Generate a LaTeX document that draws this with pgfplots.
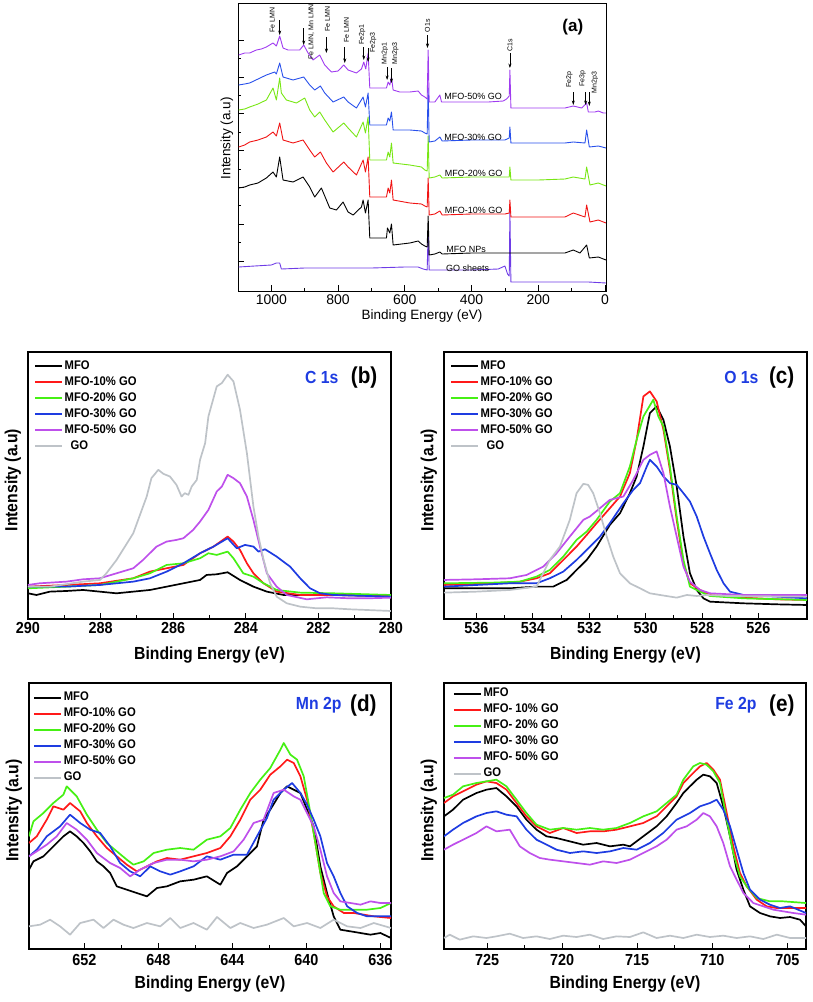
\documentclass[border=0pt]{standalone}
\usepackage{fontspec}
\setmainfont{Liberation Sans}
\newfontfamily\bsans{Liberation Sans}[FakeStretch=0.9]
\usepackage{pgfplots}
\pgfplotsset{compat=1.18}
\usetikzlibrary{arrows.meta}

\definecolor{aPurple}{RGB}{160,60,240}
\definecolor{aGO}{RGB}{110,60,230}
\definecolor{aBlue}{RGB}{40,80,235}
\definecolor{aGreen}{RGB}{120,230,20}
\definecolor{aRed}{RGB}{240,20,20}
\definecolor{cRed}{RGB}{255,25,25}
\definecolor{cGreen}{RGB}{70,240,20}
\definecolor{cBlue}{RGB}{30,60,225}
\definecolor{cPurple}{RGB}{190,80,235}
\definecolor{cGray}{RGB}{190,195,200}
\definecolor{tBlue}{RGB}{30,60,225}

\newcommand{\fs}[1]{\fontsize{#1}{#1}\selectfont}

\tikzset{
  ann/.style={rotate=90, anchor=west, inner sep=0.5pt, font=\fs{7}},
  arr/.style={-{Stealth[length=4.5pt,width=3pt]}, line width=0.6pt},
}

\pgfplotsset{
  panel/.style={
    scale only axis, x dir=reverse,
    axis line style={line width=1.5pt},
    ytick=\empty, xtick pos=lower,
    tick style={line width=1.1pt, black},
    major tick length=6pt, minor tick length=4pt, tick align=inside,
    minor x tick num=1,
    /pgf/number format/assume math mode=true,
    /pgf/number format/1000 sep={},
    every tick label/.append style={font=\bsans\bfseries\fs{16}},
    label style={font=\bsans\bfseries\fs{17.5}},
    xlabel={Binding Energy (eV)}, ylabel={Intensity (a.u)},
    xlabel style={at={(axis description cs:0.5,-0.133)}, anchor=center},
    ylabel style={at={(axis description cs:-0.042,0.52)}, anchor=center},
    legend cell align=left,
    legend image code/.code={\draw[#1, line width=2.2pt] (0pt,0pt) -- (27pt,0pt);},
    legend style={draw=none, fill=none, anchor=north west, inner sep=0pt,
      font=\bsans\bfseries\fs{12.5}, row sep=0.5pt,
      nodes={inner sep=1.5pt, text height=9.5pt, text depth=3pt, anchor=west}},
    every axis plot/.append style={line width=1.7pt, line join=round},
  },
}

\begin{document}
\begin{tikzpicture}
\useasboundingbox (0,0) rectangle (813pt,-1002pt);

%% ---------------- (a) survey ----------------
\begin{axis}[
  at={(238pt,-291pt)}, anchor=south west,
  scale only axis, width=368pt, height=288pt,
  x dir=reverse, xmin=-3, xmax=1100, ymin=0, ymax=288,
  xtick={0,200,...,1000}, minor x tick num=1,
  ytick={30,66.8,103.6,140.4,177.2,214,250.8}, minor y tick num=1,
  yticklabels={}, xtick pos=lower, ytick pos=left,
  tick align=inside, major tick length=6pt, minor tick length=3.5pt,
  axis line style={line width=0.9pt}, tick style={line width=0.7pt, black},
  /pgf/number format/assume math mode=true,
  /pgf/number format/1000 sep={},
  every tick label/.append style={font=\fs{14}},
  label style={font=\fs{13.5}},
  xlabel={Binding Energy (eV)}, ylabel={Intensity (a.u)},
  xlabel style={at={(axis description cs:0.5,-0.087)}, anchor=center},
  ylabel style={at={(axis description cs:-0.030,0.53)}, anchor=center},
  every axis plot/.append style={line width=0.9pt, line join=round},
]
\addplot[aGO] coordinates {(1098,24) (1050,25) (1000,26) (985,28) (975,28) (970,22) (900,23) (800,23) (700,23) (600,24) (560,24) (545,22) (533,21) (530,60) (527,21) (400,21) (320,22) (300,25) (292,17) (287,15) (285,80) (282,9) (200,9) (100,9) (50,9) (-3,8)};
\addplot[black] coordinates {(1098,103) (1080,104) (1065,106) (1040,108) (1015,113) (995,119) (985,114) (975,134) (965,111) (935,109) (905,114) (885,104) (870,94) (850,103) (835,91) (825,83) (805,81) (785,89) (770,79) (755,76) (730,84) (725,91) (718,78) (710,91) (705,53) (680,53) (655,53) (652,63) (645,58) (640,67) (635,46) (585,48) (560,50) (550,47) (540,45) (533,44) (530,75) (527,36) (510,37) (495,39) (488,37) (400,38) (300,38) (285,38) (282,38) (200,38) (120,38) (95,41) (75,38) (55,46) (47,33) (20,34) (-3,31)};
\addplot[aRed] coordinates {(1098,144) (1080,146) (1065,149) (1040,151) (1015,154) (995,159) (985,155) (975,168) (965,151) (935,148) (905,151) (885,141) (870,134) (853,139) (835,128) (815,119) (783,129) (770,124) (745,116) (725,131) (718,119) (710,134) (705,94) (680,94) (655,94) (650,103) (645,98) (640,111) (635,91) (585,88) (550,87) (540,85) (533,84) (530,113) (527,76) (510,77) (495,80) (488,76) (400,77) (300,77) (287,78) (285,91) (282,74) (200,74) (120,74) (95,78) (60,74) (55,86) (45,69) (20,71) (-3,68)};
\addplot[aGreen] coordinates {(1098,181) (1080,182) (1065,184) (1040,187) (1015,191) (995,203) (985,191) (975,213) (970,198) (955,191) (925,188) (900,193) (885,181) (870,174) (855,179) (840,171) (815,159) (783,168) (770,163) (745,154) (725,169) (718,158) (710,174) (705,131) (680,131) (655,131) (650,139) (645,134) (640,148) (635,128) (585,126) (550,124) (540,121) (533,120) (530,155) (527,113) (510,114) (495,116) (488,113) (400,114) (300,114) (287,114) (285,124) (282,111) (200,111) (120,112) (95,114) (60,112) (55,124) (45,106) (20,108) (-3,105)};
\addplot[aBlue] coordinates {(1098,206) (1080,207) (1065,208) (1040,212) (1015,216) (990,219) (985,217) (975,228) (965,214) (935,211) (903,214) (885,206) (870,201) (853,205) (840,198) (815,189) (783,194) (770,189) (745,183) (725,194) (718,184) (710,198) (705,166) (680,166) (655,166) (650,173) (645,170) (640,179) (635,161) (585,161) (550,160) (540,158) (533,157) (530,203) (527,149) (510,150) (495,154) (488,150) (400,151) (300,151) (287,153) (285,164) (282,148) (200,148) (120,148) (95,149) (60,148) (55,161) (47,144) (20,145) (-3,143)};
\addplot[aPurple] coordinates {(1098,236) (1080,238) (1065,238) (1045,241) (1030,242) (1015,244) (995,248) (985,245) (975,255) (965,243) (950,241) (935,241) (915,241) (903,246) (890,238) (875,231) (855,236) (840,226) (820,219) (800,220) (783,226) (770,221) (745,218) (730,222) (723,229) (717,222) (710,238) (705,203) (680,203) (655,203) (650,209) (645,206) (640,214) (635,201) (615,199) (585,199) (560,200) (550,196) (540,194) (533,192) (530,241) (527,189) (510,189) (495,196) (490,189) (450,189) (400,189) (350,189) (305,190) (295,192) (287,195) (285,221) (282,183) (250,183) (200,183) (150,183) (120,183) (95,185) (70,183) (55,188) (50,179) (30,179) (20,180) (5,178) (-3,178)};

% curve labels
\node[font=\fs{9}] at (axis cs:395,195) {MFO-50\% GO};
\node[font=\fs{9}] at (axis cs:395,154) {MFO-30\% GO};
\node[font=\fs{9}] at (axis cs:394,118) {MFO-20\% GO};
\node[font=\fs{9}] at (axis cs:394,81) {MFO-10\% GO};
\node[font=\fs{9}] at (axis cs:416,42) {MFO NPs};
\node[font=\fs{9}] at (axis cs:412,23) {GO sheets};
\node[font=\bfseries\fs{17}] at (axis description cs:0.91,0.917) {(a)};

% peak annotations
\draw[arr] (axis cs:975,271) -- (axis cs:975,256);
\node[ann] at (axis cs:997,258) {Fe LMN};
\draw[arr] (axis cs:903,263) -- (axis cs:903,246);
\node[ann] at (axis cs:880,231) {Fe LMN, Mn LMN};
\draw[arr] (axis cs:835,254) -- (axis cs:835,238);
\node[ann] at (axis cs:832,259) {Fe LMN};
\draw[arr] (axis cs:780,244) -- (axis cs:780,228);
\node[ann] at (axis cs:775,248) {Fe LMN};
\draw[arr] (axis cs:723,244) -- (axis cs:723,231);
\node[ann] at (axis cs:728,246) {Fe2p1};
\draw[arr] (axis cs:710,243) -- (axis cs:710,229);
\node[ann] at (axis cs:695,238) {Fe2p3};
\draw[arr] (axis cs:653,224) -- (axis cs:653,211);
\node[ann] at (axis cs:660,226) {Mn2p1};
\draw[arr] (axis cs:640,223) -- (axis cs:640,208);
\node[ann] at (axis cs:628,226) {Mn2p3};
\draw[arr] (axis cs:532,256) -- (axis cs:532,243);
\node[ann] at (axis cs:532,258) {O1s};
\draw[arr] (axis cs:285,238) -- (axis cs:285,223);
\node[ann] at (axis cs:285,239) {C1s};
\draw[arr] (axis cs:95,199) -- (axis cs:95,186);
\node[ann] at (axis cs:107,203) {Fe2p};
\draw[arr] (axis cs:58,199) -- (axis cs:58,186);
\node[ann] at (axis cs:67,204) {Fe3p};
\draw[arr] (axis cs:47,199) -- (axis cs:47,185);
\node[ann] at (axis cs:30,197) {Mn2p3};
\end{axis}

%% ---------------- (b) C 1s ----------------
\begin{axis}[panel,
  at={(28pt,-619pt)}, anchor=south west, width=363pt, height=267pt,
  xmin=280, xmax=290, ymin=0, ymax=800, xtick={280,282,...,290},
  legend style={at={(axis description cs:0.016,0.978)}},
]
\addplot[black] coordinates {(290.00,77) (289.77,72) (289.40,82) (288.94,84) (288.48,87) (288.02,82) (287.56,77) (287.10,82) (286.64,87) (286.18,97) (285.72,107) (285.26,117) (285.08,132) (284.80,134) (284.50,140) (284.16,117) (283.79,97) (283.42,82) (282.96,72) (282.32,72) (281.58,72) (280.66,70) (280.00,69)};
\addplot[cRed] coordinates {(290.00,97) (288.94,102) (288.02,107) (287.10,122) (286.64,142) (286.18,152) (285.72,162) (285.26,197) (284.89,217) (284.50,247) (284.34,232) (284.16,207) (283.97,167) (283.79,137) (283.51,107) (283.15,82) (282.50,72) (281.58,72) (280.00,69)};
\addplot[cGreen] coordinates {(290.00,92) (288.94,97) (288.02,102) (287.10,122) (286.64,137) (286.18,162) (285.72,167) (285.26,182) (285.03,197) (284.80,192) (284.50,202) (284.34,182) (284.07,137) (283.79,127) (283.51,107) (283.15,87) (282.50,79) (281.58,77) (280.00,72)};
\addplot[cBlue] coordinates {(290.00,97) (288.94,97) (288.02,102) (287.56,107) (287.10,112) (286.64,122) (286.18,142) (285.72,167) (285.26,197) (284.89,217) (284.50,242) (284.25,212) (284.02,222) (283.79,217) (283.65,202) (283.47,209) (283.15,187) (282.78,157) (282.50,122) (282.23,92) (281.95,77) (281.58,72) (280.00,67)};
\addplot[cPurple] coordinates {(290.00,102) (289.68,107) (288.94,112) (288.48,119) (288.02,122) (287.56,137) (287.10,152) (286.83,177) (286.46,217) (286.18,232) (285.91,237) (285.72,242) (285.45,267) (285.26,292) (285.03,327) (284.80,382) (284.66,397) (284.50,432) (284.34,422) (284.16,407) (283.97,367) (283.79,297) (283.61,217) (283.42,137) (283.15,97) (282.87,72) (282.32,59) (281.77,65) (281.12,62) (280.66,62) (280.00,64)};
\addplot[cGray] coordinates {(290.00,97) (289.40,97) (288.48,112) (288.02,117) (287.84,137) (287.56,177) (287.10,257) (286.73,367) (286.60,422) (286.41,447) (286.27,435) (286.09,427) (285.91,402) (285.77,367) (285.68,377) (285.58,372) (285.49,397) (285.35,417) (285.26,477) (285.12,527) (285.03,607) (284.80,697) (284.66,707) (284.50,732) (284.34,712) (284.16,627) (283.97,497) (283.79,337) (283.65,247) (283.51,177) (283.33,107) (283.15,67) (282.87,47) (282.50,37) (282.04,32) (281.58,32) (281.12,29) (280.66,27) (280.00,24)};
\legend{MFO, MFO-10\% GO, MFO-20\% GO, MFO-30\% GO, MFO-50\% GO, {\hspace{6pt}GO}}
\node[anchor=east, font=\bsans\bfseries\fs{17.5}, text=tBlue] at (axis description cs:0.865,0.906) {C 1s};
\node[anchor=east, font=\bsans\bfseries\fs{23}] at (axis description cs:0.972,0.906) {(b)};
\end{axis}

%% ---------------- (c) O 1s ----------------
\begin{axis}[panel,
  at={(444pt,-619pt)}, anchor=south west, width=363pt, height=267pt,
  xmin=524.28, xmax=537.15, ymin=0, ymax=800, xtick={526,528,...,536},
  legend style={at={(axis description cs:0.016,0.978)}},
]
\addplot[black] coordinates {(537.15,92) (536.00,92) (534.82,92) (533.87,97) (533.28,97) (532.80,117) (532.45,147) (532.09,177) (531.74,217) (531.27,282) (530.91,317) (530.56,377) (530.32,427) (530.08,517) (529.85,617) (529.61,637) (529.37,597) (529.14,517) (528.90,397) (528.66,247) (528.43,137) (528.19,87) (527.95,62) (527.72,52) (526.53,47) (525.35,44) (524.28,42)};
\addplot[cRed] coordinates {(537.15,102) (535.41,107) (534.46,112) (533.87,122) (533.40,137) (532.92,177) (532.45,217) (532.09,252) (531.74,287) (531.27,332) (530.91,367) (530.56,437) (530.32,537) (530.08,667) (529.85,682) (529.61,652) (529.37,567) (529.14,447) (528.90,297) (528.66,167) (528.43,107) (528.07,87) (527.72,72) (526.53,64) (525.35,59) (524.28,57)};
\addplot[cGreen] coordinates {(537.15,107) (535.41,109) (534.46,112) (533.87,127) (533.40,147) (532.92,187) (532.45,237) (532.09,262) (531.74,297) (531.27,352) (530.91,377) (530.56,457) (530.32,537) (530.08,607) (529.73,657) (529.55,607) (529.37,577) (529.14,457) (528.90,307) (528.66,177) (528.43,97) (528.07,82) (527.72,69) (526.53,62) (524.28,57)};
\addplot[cBlue] coordinates {(537.15,97) (536.00,102) (534.82,107) (533.87,107) (533.40,122) (532.92,142) (532.45,177) (532.09,207) (531.62,247) (531.27,287) (530.79,347) (530.44,387) (530.20,407) (529.96,457) (529.85,477) (529.61,457) (529.37,427) (529.14,407) (528.90,402) (528.66,377) (528.43,352) (528.19,307) (527.95,247) (527.72,197) (527.48,147) (527.24,107) (527.01,82) (526.53,72) (525.35,67) (524.28,62)};
\addplot[cPurple] coordinates {(537.15,117) (536.00,119) (534.82,122) (534.22,132) (533.63,157) (533.16,197) (532.69,247) (532.21,297) (531.98,307) (531.62,332) (531.27,357) (530.79,367) (530.44,417) (530.08,477) (529.85,492) (529.61,502) (529.37,437) (529.14,337) (528.90,247) (528.66,157) (528.43,112) (528.07,87) (527.72,77) (526.53,72) (524.28,72)};
\addplot[cGray] coordinates {(537.15,79) (536.00,82) (534.82,87) (533.87,97) (533.40,177) (533.04,217) (532.69,297) (532.45,377) (532.21,405) (532.04,402) (531.86,377) (531.62,317) (531.38,247) (531.15,187) (530.91,137) (530.56,107) (530.20,92) (529.85,77) (529.49,72) (528.90,64) (528.54,72) (528.19,69) (527.83,72) (527.12,69) (524.28,67)};
\legend{MFO, MFO-10\% GO, MFO-20\% GO, MFO-30\% GO, MFO-50\% GO, {\hspace{6pt}GO}}
\node[anchor=east, font=\bsans\bfseries\fs{17.5}, text=tBlue] at (axis description cs:0.876,0.906) {O 1s};
\node[anchor=east, font=\bsans\bfseries\fs{23}] at (axis description cs:0.975,0.906) {(c)};
\end{axis}

%% ---------------- (d) Mn 2p ----------------
\begin{axis}[panel,
  at={(29pt,-949pt)}, anchor=south west, width=362pt, height=266pt,
  xmin=635.42, xmax=655, ymin=0, ymax=798, xtick={636,640,...,652},
  legend style={at={(axis description cs:0.011,0.975)}},
  xlabel style={at={(axis description cs:0.5,-0.132)}},
  every tick label/.append style={yshift=-2pt},
]
\addplot[black] coordinates {(655.00,238) (654.76,263) (654.22,278) (653.68,308) (653.14,338) (652.78,353) (652.42,338) (652.05,318) (651.69,293) (651.33,263) (650.97,248) (650.61,228) (650.25,188) (649.71,178) (649.17,168) (648.62,158) (648.08,183) (647.54,188) (646.82,203) (646.10,208) (645.38,218) (644.65,193) (644.29,228) (643.75,248) (643.21,278) (642.67,308) (642.31,388) (641.95,418) (641.40,468) (641.04,488) (640.68,478) (640.32,468) (639.96,418) (639.60,368) (639.24,248) (638.88,168) (638.52,98) (638.16,58) (637.61,53) (637.07,48) (636.53,43) (635.99,48) (635.42,33)};
\addplot[cRed] coordinates {(655.00,318) (654.58,338) (654.04,388) (653.68,428) (653.14,418) (652.78,438) (652.23,413) (651.87,378) (651.33,338) (650.79,303) (650.25,278) (649.71,253) (649.17,233) (648.62,248) (648.08,263) (647.54,273) (646.82,268) (646.10,278) (645.38,288) (644.65,303) (644.11,338) (643.57,388) (643.03,448) (642.49,478) (641.95,523) (641.40,548) (641.04,568) (640.68,558) (640.32,518) (639.96,448) (639.60,348) (639.24,228) (638.88,158) (638.52,128) (637.97,108) (637.43,108) (636.89,103) (636.35,98) (635.42,93)};
\addplot[cGreen] coordinates {(655.00,338) (654.76,383) (654.22,408) (653.68,438) (653.14,463) (652.96,488) (652.42,458) (651.87,403) (651.33,358) (650.79,318) (650.25,293) (649.71,268) (649.35,253) (648.80,263) (648.26,288) (647.54,298) (646.82,303) (646.10,298) (645.38,328) (644.65,338) (644.11,363) (643.57,418) (643.03,468) (642.49,508) (641.95,543) (641.40,598) (641.22,618) (640.86,583) (640.50,568) (640.14,518) (639.78,408) (639.42,288) (639.06,168) (638.70,128) (638.16,118) (637.43,118) (636.71,118) (635.99,123) (635.42,138)};
\addplot[cBlue] coordinates {(655.00,278) (654.58,298) (654.04,338) (653.32,368) (652.78,403) (652.23,378) (651.69,358) (651.15,348) (650.61,308) (650.07,258) (649.53,233) (648.99,218) (648.44,248) (647.90,233) (647.36,223) (646.82,233) (646.10,248) (645.38,278) (644.65,268) (643.93,283) (643.21,283) (642.67,338) (642.13,393) (641.77,448) (641.22,478) (640.77,498) (640.32,468) (639.96,433) (639.60,388) (639.24,338) (638.88,258) (638.52,218) (638.16,168) (637.79,128) (637.25,108) (636.71,98) (636.17,98) (635.42,98)};
\addplot[cPurple] coordinates {(655.00,278) (654.58,293) (654.04,313) (653.50,338) (652.96,378) (652.42,358) (651.87,328) (651.33,288) (650.61,258) (650.07,243) (649.53,218) (648.99,238) (648.26,258) (647.54,268) (646.82,268) (646.10,263) (645.38,268) (644.65,278) (643.93,293) (643.39,328) (642.85,378) (642.31,388) (641.77,468) (641.22,478) (640.68,458) (640.32,448) (639.96,408) (639.60,368) (639.24,298) (638.88,218) (638.52,168) (638.16,143) (637.61,138) (637.07,133) (636.53,143) (635.99,138) (635.42,138)};
\addplot[cGray] coordinates {(655.00,68) (654.40,73) (653.86,88) (653.32,68) (652.78,43) (652.23,78) (651.51,88) (650.97,63) (650.43,88) (649.89,73) (649.35,63) (648.62,78) (647.90,68) (647.36,93) (646.82,63) (646.10,78) (645.38,58) (644.83,96) (644.11,63) (643.57,78) (642.85,63) (642.13,73) (641.22,93) (640.68,68) (639.96,78) (639.24,63) (638.52,88) (637.79,68) (637.07,63) (636.35,78) (635.42,63)};
\legend{MFO, MFO-10\% GO, MFO-20\% GO, MFO-30\% GO, MFO-50\% GO, GO}
\node[anchor=east, font=\bsans\bfseries\fs{17.5}, text=tBlue] at (axis description cs:0.873,0.917) {Mn 2p};
\node[anchor=east, font=\bsans\bfseries\fs{23}] at (axis description cs:0.970,0.917) {(d)};
\end{axis}

%% ---------------- (e) Fe 2p ----------------
\begin{axis}[panel,
  at={(444pt,-949pt)}, anchor=south west, width=362pt, height=266pt,
  xmin=703.76, xmax=727.87, ymin=0, ymax=798, xtick={705,710,...,725},
  legend style={at={(axis description cs:0.024,0.99)}},
  xlabel style={at={(axis description cs:0.5,-0.132)}},
  every tick label/.append style={yshift=-2pt},
]
\addplot[black] coordinates {(727.87,398) (727.27,418) (726.60,448) (725.71,468) (725.04,478) (724.38,483) (723.71,458) (723.04,428) (722.38,388) (721.71,358) (721.04,338) (720.38,333) (719.49,323) (718.60,313) (717.71,318) (716.82,308) (715.93,313) (715.49,308) (714.60,338) (713.71,368) (713.04,398) (712.38,438) (711.93,468) (711.49,488) (711.04,508) (710.60,523) (710.16,518) (709.71,498) (709.27,428) (708.82,338) (708.38,238) (707.93,178) (707.49,128) (706.82,108) (706.16,98) (705.49,93) (704.82,96) (704.16,88) (703.76,68)};
\addplot[cRed] coordinates {(727.87,438) (727.27,458) (726.60,473) (725.71,493) (725.04,503) (724.38,498) (723.71,478) (723.04,438) (722.38,398) (721.71,368) (720.82,348) (719.93,363) (719.04,348) (718.16,353) (717.27,353) (716.38,358) (715.49,368) (714.60,378) (713.71,398) (713.04,428) (712.38,458) (711.93,498) (711.27,528) (710.82,548) (710.38,558) (709.93,538) (709.49,508) (709.04,408) (708.60,308) (708.16,228) (707.71,188) (707.04,148) (706.38,128) (705.71,123) (704.82,123) (703.76,123)};
\addplot[cGreen] coordinates {(727.87,453) (727.27,463) (726.60,488) (725.71,498) (725.04,503) (724.38,508) (723.71,488) (723.04,448) (722.38,408) (721.71,373) (720.82,358) (719.93,363) (719.04,358) (718.16,363) (717.27,358) (716.38,363) (715.49,378) (714.60,398) (713.71,413) (713.04,438) (712.38,463) (711.93,508) (711.27,548) (710.82,558) (710.38,553) (709.93,533) (709.49,498) (709.04,388) (708.60,288) (708.16,218) (707.71,188) (707.04,153) (706.16,143) (705.27,143) (703.76,138)};
\addplot[cBlue] coordinates {(727.87,338) (727.27,358) (726.60,378) (725.71,398) (725.04,408) (724.38,413) (723.71,403) (723.04,398) (722.38,358) (721.71,328) (721.04,313) (720.38,298) (719.49,288) (718.60,293) (717.71,288) (716.82,293) (715.93,303) (715.04,298) (714.16,318) (713.27,348) (712.38,388) (711.49,408) (710.82,428) (710.16,438) (709.71,448) (709.27,418) (708.82,368) (708.38,298) (707.93,228) (707.49,178) (706.82,148) (706.16,133) (705.49,123) (704.82,128) (703.76,108)};
\addplot[cPurple] coordinates {(727.87,298) (727.27,313) (726.60,328) (725.71,348) (725.04,368) (724.38,353) (723.49,358) (722.82,308) (722.16,288) (721.49,273) (720.82,268) (719.93,263) (719.04,258) (718.16,253) (717.27,263) (716.38,258) (715.49,268) (714.60,288) (713.71,308) (713.04,328) (712.38,358) (711.71,368) (711.04,388) (710.60,408) (710.16,398) (709.71,368) (709.27,318) (708.82,248) (708.38,208) (707.93,168) (707.27,138) (706.60,128) (705.93,118) (705.27,113) (704.60,108) (703.76,103)};
\addplot[cGray] coordinates {(727.87,33) (727.49,43) (726.82,28) (725.93,38) (725.04,33) (724.38,38) (723.49,46) (722.60,33) (721.71,38) (720.82,30) (719.93,40) (719.04,36) (718.16,43) (717.27,30) (716.38,38) (715.49,36) (714.60,50) (713.71,33) (712.82,40) (711.93,33) (711.04,43) (710.16,36) (709.27,40) (708.38,33) (707.49,38) (706.60,30) (705.71,43) (704.82,33) (703.76,33)};
\legend{MFO, MFO- 10\% GO, MFO- 20\% GO, MFO- 30\% GO, MFO- 50\% GO, GO}
\node[anchor=east, font=\bsans\bfseries\fs{17.5}, text=tBlue] at (axis description cs:0.873,0.917) {Fe 2p};
\node[anchor=east, font=\bsans\bfseries\fs{23}] at (axis description cs:0.978,0.917) {(e)};
\end{axis}
\end{tikzpicture}
\end{document}
